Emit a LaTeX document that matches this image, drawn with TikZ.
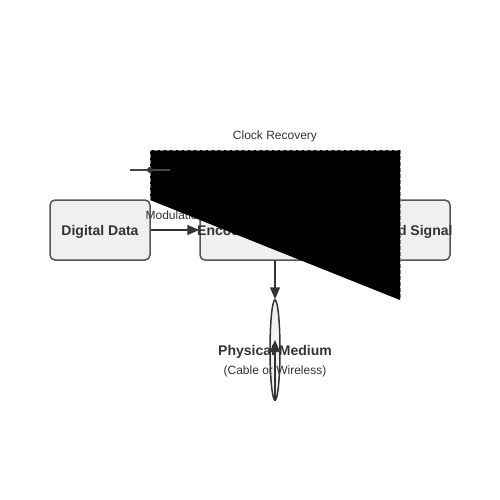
\documentclass[tikz,border=0pt]{standalone}
\usepackage{fontspec}
\setmainfont{Liberation Sans}
\usetikzlibrary{arrows.meta,shapes.geometric}

\definecolor{boxfill}{HTML}{F0F0F0}
\definecolor{boxline}{HTML}{555555}
\definecolor{ink}{HTML}{333333}

\tikzset{
    block/.style={draw=boxline, line width=1.5pt, fill=boxfill, rounded corners=5pt,
        minimum height=60pt, text=ink, text height=10pt, text depth=0pt,
        font=\fontsize{14}{16}\selectfont\bfseries},
    link/.style={draw=ink, line width=1.5pt, -{Triangle[length=12pt,width=10pt]}},
    tag/.style={text=ink, font=\fontsize{12}{14}\selectfont}
}

\begin{document}
\begin{tikzpicture}[x=1pt, y=-1pt]
        \useasboundingbox (0,0) rectangle (500,500);

        \node[block, minimum width=100pt] (data) at (100,230) {Digital Data};
        \node[block, minimum width=150pt] (enc) at (275,230) {};
        \node[block, minimum width=100pt] (sig) at (400,230) {\makebox[0pt]{Encoded Signal}};
        \node[text=ink, font=\fontsize{14}{16}\selectfont\bfseries, anchor=west, inner sep=0pt,
            text height=10pt, text depth=0pt] (enclabel) at (197,230) {Encoder / Modulator};

        \node[ellipse, draw=ink, line width=1.5pt, fill=boxfill, minimum width=10pt, minimum height=100pt, inner sep=0pt] (medium) at (275,350) {};
        \node[text=ink, font=\fontsize{14}{16}\selectfont\bfseries, text height=10pt, text depth=0pt] (mediumlabel) at (275,350) {Physical Medium};
        \node[tag] (mediumnote) at (275,371) {(Cable or Wireless)};

        \draw[link] (data) -- node[tag, above=6pt] (modlabel) {Modulation} (enc);
        \draw[link] (enc.south -| medium.north) -- (medium.north);
        \coordinate (mediumup) at (275,340);
        \draw[link] (medium.south) -- (mediumup);

        \coordinate (fbstart) at (150,200);
        \coordinate (fbleft) at (150,150);
        \coordinate (fbright) at (400,150);
        \coordinate (fbend) at (400,300);
        \draw[draw=gray, line width=1pt, dash pattern=on 4pt off 2pt, fill=black]
            (fbstart) -- (fbleft) -- (fbright) -- (fbend);
        \node[tag] (clocklabel) at (275,136) {Clock Recovery};

        \coordinate (markleft) at (130,170);
        \coordinate (markright) at (170,170);
        \draw[draw=ink!90, line width=1.5pt] (markleft) -- (markright);
        \fill[ink] (150,170) circle (3pt);

    \end{tikzpicture}
\end{document}
